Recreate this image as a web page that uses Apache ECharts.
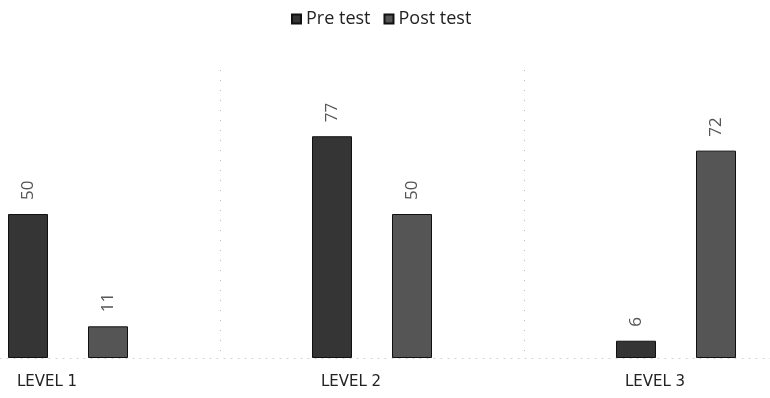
<!DOCTYPE html>
<html>
<head>
<meta charset="utf-8">
<script src="https://cdn.jsdelivr.net/npm/echarts@6/dist/echarts.min.js"></script>
<style>html,body{margin:0;padding:0;background:#fff;overflow:hidden;width:770px;height:398px}#c{position:absolute;left:-84px;top:0;width:912px;height:398px}</style>
</head>
<body>
<div id="c"></div>
<script>
const categories = ['LEVEL 1', 'LEVEL 2', 'LEVEL 3'];
const seriesNames = ['Pre test', 'Post test'];
const preTest = [50, 77, 6];
const postTest = [11, 50, 72];

const chart = echarts.init(document.getElementById('c'), null, {renderer: 'canvas'});
const labelCfg = {
  show: true,
  position: 'top',
  rotate: 90,
  align: 'left',
  verticalAlign: 'middle',
  distance: 14,
  fontFamily: 'Open Sans',
  fontSize: 17,
  color: '#555'
};
chart.setOption({
  animation: false,
  backgroundColor: '#fff',
  legend: {
    top: 5,
    left: 370,
    itemWidth: 9,
    itemHeight: 9,
    itemGap: 13,
    icon: 'rect',
    textStyle: {fontFamily: 'Open Sans', fontSize: 18, color: '#222'},
    data: seriesNames
  },
  grid: {left: 0, right: 0, top: 70, bottom: 40, containLabel: false},
  xAxis: {
    type: 'category',
    data: categories,
    axisTick: {show: false},
    axisLine: {show: true, lineStyle: {color: '#d0d0d0', type: [1, 6], width: 1}},
    axisLabel: {
      fontFamily: 'DejaVu Sans',
      fontSize: 15,
      color: '#222',
      margin: 17,
      padding: [0, 42, 0, 0]
    },
    splitLine: {show: true, lineStyle: {color: '#bbb', type: [1, 9], width: 1}}
  },
  yAxis: {
    type: 'value',
    min: 0,
    max: 100,
    show: false,
    splitLine: {show: false}
  },
  series: [
    {
      name: seriesNames[0],
      type: 'bar',
      data: preTest,
      barWidth: 40,
      barGap: '100%',
      itemStyle: {color: '#353535', borderColor: '#111', borderWidth: 1},
      label: labelCfg
    },
    {
      name: seriesNames[1],
      type: 'bar',
      data: postTest,
      barWidth: 40,
      itemStyle: {color: '#555', borderColor: '#111', borderWidth: 1},
      label: labelCfg
    }
  ]
});
</script>
</body>
</html>
